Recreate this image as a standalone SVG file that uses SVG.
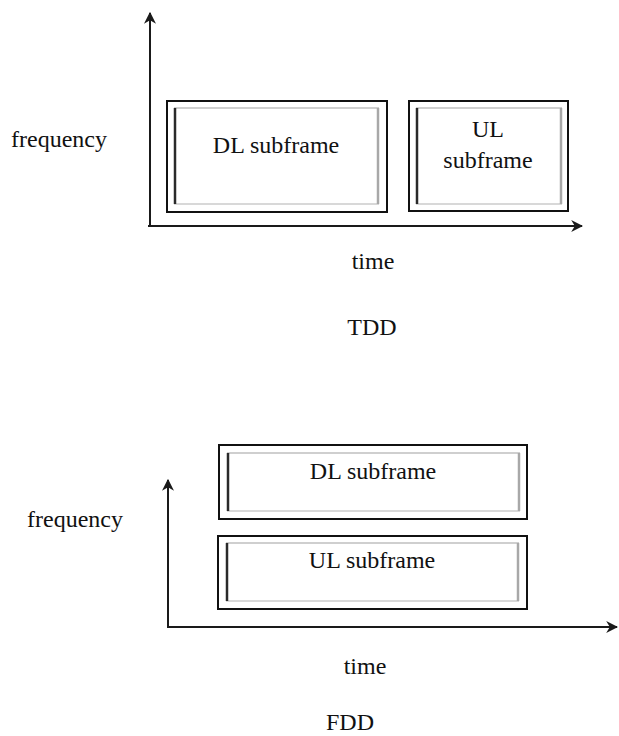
<svg xmlns="http://www.w3.org/2000/svg" width="619" height="736" viewBox="0 0 619 736">
  <style>
    text { font-family: "Liberation Serif", "Times New Roman", serif; font-size: 24px; fill: #111; }
    .mid { text-anchor: middle; }
    .axis { stroke: #1a1a1a; stroke-width: 2; fill: none; }
    .outer { fill: #fff; stroke: #111; stroke-width: 2; }
    .bl { stroke: #2a2a2a; stroke-width: 2.5; fill: none; }
    .br { stroke: #a8a8a8; stroke-width: 2.5; fill: none; }
    .bt { stroke: #cfcfcf; stroke-width: 2; fill: none; }
    .bb { stroke: #d8d8d8; stroke-width: 2; fill: none; }
  </style>
  <defs>
    <marker id="arrow" viewBox="0 0 10 10" refX="9" refY="5" markerWidth="6" markerHeight="6" orient="auto" markerUnits="strokeWidth">
      <path d="M0,0 L10,5 L0,10 L3,5 Z" fill="#1a1a1a"/>
    </marker>
  </defs>
  <rect width="619" height="736" fill="#fff"/>

  <!-- axes -->
  <g id="connectors">
    <path class="axis" d="M150,227 L150,13" marker-end="url(#arrow)"/>
    <path class="axis" d="M148,226 L582,226" marker-end="url(#arrow)"/>
    <path class="axis" d="M168,627 L168,480" marker-end="url(#arrow)"/>
    <path class="axis" d="M167,627 L617,627" marker-end="url(#arrow)"/>
  </g>

  <!-- TDD: DL subframe -->
  <g id="tdd-dl">
    <rect class="outer" x="167" y="101" width="220" height="111"/>
    <path class="bt" d="M174,108 H379"/>
    <path class="bb" d="M174,204 H379"/>
    <path class="bl" d="M175,108 V204"/>
    <path class="br" d="M378,108 V204"/>
    <text class="mid" x="276" y="153">DL subframe</text>
  </g>

  <!-- TDD: UL subframe -->
  <g id="tdd-ul">
    <rect class="outer" x="409" y="101" width="159" height="110"/>
    <path class="bt" d="M416,108 H562"/>
    <path class="bb" d="M416,204 H562"/>
    <path class="bl" d="M417,108 V204"/>
    <path class="br" d="M561,108 V204"/>
    <text class="mid" x="488" y="137">UL</text>
    <text class="mid" x="488" y="168">subframe</text>
  </g>

  <!-- FDD: DL subframe -->
  <g id="fdd-dl">
    <rect class="outer" x="219" y="445" width="308" height="74"/>
    <path class="bt" d="M227,453 H520"/>
    <path class="bb" d="M227,511 H520"/>
    <path class="bl" d="M228,453 V511"/>
    <path class="br" d="M519,453 V511"/>
    <text class="mid" x="373" y="479">DL subframe</text>
  </g>

  <!-- FDD: UL subframe -->
  <g id="fdd-ul">
    <rect class="outer" x="218" y="536" width="309" height="73"/>
    <path class="bt" d="M226,543 H519"/>
    <path class="bb" d="M226,601 H519"/>
    <path class="bl" d="M227,543 V601"/>
    <path class="br" d="M518,543 V601"/>
    <text class="mid" x="372" y="568">UL subframe</text>
  </g>

  <!-- labels -->
  <g id="labels">
    <text x="11" y="147">frequency</text>
    <text class="mid" x="373" y="269">time</text>
    <text class="mid" x="372" y="335">TDD</text>
    <text x="27" y="527">frequency</text>
    <text class="mid" x="365" y="674">time</text>
    <text class="mid" x="350" y="730">FDD</text>
  </g>
</svg>
